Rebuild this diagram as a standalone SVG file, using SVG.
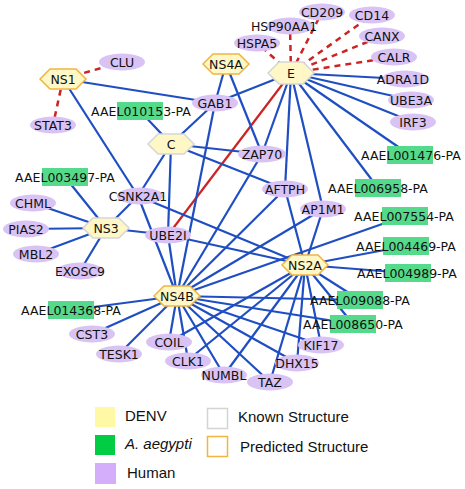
<svg xmlns="http://www.w3.org/2000/svg" width="465" height="489" viewBox="0 0 465 489">
<style>
.e{stroke:#1F4EC2;stroke-width:2.2;fill:none}
.d{stroke:#CC2424;stroke-width:2.5;stroke-dasharray:6 5;fill:none}
.r{stroke:#CC2424;stroke-width:2.2;fill:none}
.h{fill:#D9C3F4}
.vk{fill:#FFF8C6;stroke:#D6D6D6;stroke-width:1.5}
.vp{fill:#FFF8C6;stroke:#F0B444;stroke-width:1.5}
.m{fill:#55D98A}
.t{font-family:"DejaVu Sans",sans-serif;font-size:12.5px;fill:#111;text-anchor:middle}
.l{font-family:"Liberation Sans",Arial,sans-serif;font-size:15px;fill:#111}
</style>
<rect width="465" height="489" fill="#fff"/>
<g id="connectors">
<line class="d" x1="63" y1="79" x2="122" y2="62"/>
<line class="d" x1="63" y1="79" x2="53" y2="125"/>
<line class="d" x1="291" y1="73" x2="257" y2="43"/>
<line class="d" x1="291" y1="73" x2="290" y2="26"/>
<line class="d" x1="291" y1="73" x2="322" y2="12"/>
<line class="d" x1="291" y1="73" x2="372" y2="15"/>
<line class="d" x1="291" y1="73" x2="382" y2="36"/>
<line class="d" x1="291" y1="73" x2="394" y2="57"/>
<line class="r" x1="291" y1="73" x2="168" y2="235"/>
<line class="e" x1="63" y1="79" x2="215" y2="103"/>
<line class="e" x1="63" y1="79" x2="138" y2="196"/>
<line class="e" x1="226" y1="64" x2="215" y2="103"/>
<line class="e" x1="226" y1="64" x2="262" y2="154"/>
<line class="e" x1="291" y1="73" x2="215" y2="103"/>
<line class="e" x1="291" y1="73" x2="262" y2="154"/>
<line class="e" x1="291" y1="73" x2="285" y2="189"/>
<line class="e" x1="291" y1="73" x2="323" y2="209"/>
<line class="e" x1="291" y1="73" x2="378" y2="188"/>
<line class="e" x1="291" y1="73" x2="410" y2="155"/>
<line class="e" x1="291" y1="73" x2="413" y2="122"/>
<line class="e" x1="291" y1="73" x2="411" y2="100"/>
<line class="e" x1="291" y1="73" x2="403" y2="79"/>
<line class="e" x1="171" y1="144" x2="140" y2="111"/>
<line class="e" x1="171" y1="144" x2="215" y2="103"/>
<line class="e" x1="171" y1="144" x2="262" y2="154"/>
<line class="e" x1="171" y1="144" x2="285" y2="189"/>
<line class="e" x1="171" y1="144" x2="138" y2="196"/>
<line class="e" x1="171" y1="144" x2="168" y2="235"/>
<line class="e" x1="106" y1="228" x2="65" y2="177"/>
<line class="e" x1="106" y1="228" x2="33" y2="203"/>
<line class="e" x1="106" y1="228" x2="26" y2="229"/>
<line class="e" x1="106" y1="228" x2="36" y2="254"/>
<line class="e" x1="106" y1="228" x2="80" y2="271"/>
<line class="e" x1="106" y1="228" x2="138" y2="196"/>
<line class="e" x1="106" y1="228" x2="168" y2="235"/>
<line class="e" x1="305" y1="265" x2="138" y2="196"/>
<line class="e" x1="305" y1="265" x2="168" y2="235"/>
<line class="e" x1="305" y1="265" x2="285" y2="189"/>
<line class="e" x1="305" y1="265" x2="323" y2="209"/>
<line class="e" x1="305" y1="265" x2="406" y2="246"/>
<line class="e" x1="305" y1="265" x2="407" y2="273"/>
<line class="e" x1="305" y1="265" x2="360" y2="300"/>
<line class="e" x1="305" y1="265" x2="353" y2="324"/>
<line class="e" x1="305" y1="265" x2="321" y2="345"/>
<line class="e" x1="305" y1="265" x2="297" y2="363"/>
<line class="e" x1="305" y1="265" x2="270" y2="382"/>
<line class="e" x1="305" y1="265" x2="224" y2="375"/>
<line class="e" x1="305" y1="265" x2="188" y2="360"/>
<line class="e" x1="305" y1="265" x2="169" y2="342"/>
<line class="e" x1="177" y1="296" x2="215" y2="103"/>
<line class="e" x1="177" y1="296" x2="262" y2="154"/>
<line class="e" x1="177" y1="296" x2="285" y2="189"/>
<line class="e" x1="177" y1="296" x2="323" y2="209"/>
<line class="e" x1="177" y1="296" x2="405" y2="216"/>
<line class="e" x1="177" y1="296" x2="360" y2="300"/>
<line class="e" x1="177" y1="296" x2="353" y2="324"/>
<line class="e" x1="177" y1="296" x2="321" y2="345"/>
<line class="e" x1="177" y1="296" x2="297" y2="363"/>
<line class="e" x1="177" y1="296" x2="270" y2="382"/>
<line class="e" x1="177" y1="296" x2="224" y2="375"/>
<line class="e" x1="177" y1="296" x2="188" y2="360"/>
<line class="e" x1="177" y1="296" x2="169" y2="342"/>
<line class="e" x1="177" y1="296" x2="119" y2="354"/>
<line class="e" x1="177" y1="296" x2="92" y2="334"/>
<line class="e" x1="177" y1="296" x2="71" y2="310"/>
<line class="e" x1="177" y1="296" x2="168" y2="235"/>
<line class="e" x1="177" y1="296" x2="138" y2="196"/>
</g>
<g id="NS1"><polygon class="vp" points="40,79 50,69 76,69 86,79 76,89 50,89"/><text class="t" x="63" y="83.5">NS1</text></g>
<g id="NS4A"><polygon class="vp" points="203,64 213,54 239,54 249,64 239,74 213,74"/><text class="t" x="226" y="68.5">NS4A</text></g>
<g id="E"><polygon class="vk" points="268,73 279,62 303,62 314,73 303,84 279,84"/><text class="t" x="291" y="77.5">E</text></g>
<g id="C"><polygon class="vk" points="148,144 158,134 184,134 194,144 184,154 158,154"/><text class="t" x="171" y="148.5">C</text></g>
<g id="NS3"><polygon class="vk" points="83,228 93,218 119,218 129,228 119,238 93,238"/><text class="t" x="106" y="232.5">NS3</text></g>
<g id="NS2A"><polygon class="vp" points="282,265 292,255 318,255 328,265 318,275 292,275"/><text class="t" x="305" y="269.5">NS2A</text></g>
<g id="NS4B"><polygon class="vp" points="154,296 164,286 190,286 200,296 190,306 164,306"/><text class="t" x="177" y="300.5">NS4B</text></g>
<g id="CLU"><ellipse class="h" cx="122" cy="62" rx="23" ry="8.5"/><text class="t" x="122" y="66.5">CLU</text></g>
<g id="STAT3"><ellipse class="h" cx="53" cy="125" rx="23" ry="8.5"/><text class="t" x="53" y="129.5">STAT3</text></g>
<g id="HSPA5"><ellipse class="h" cx="257" cy="43" rx="23" ry="8.5"/><text class="t" x="257" y="47.5">HSPA5</text></g>
<g id="HSP90AA1"><ellipse class="h" cx="290" cy="26" rx="23" ry="8.5"/><text class="t" x="284" y="30.5">HSP90AA1</text></g>
<g id="CD209"><ellipse class="h" cx="322" cy="12" rx="23" ry="8.5"/><text class="t" x="322" y="16.5">CD209</text></g>
<g id="CD14"><ellipse class="h" cx="372" cy="15" rx="23" ry="8.5"/><text class="t" x="372" y="19.5">CD14</text></g>
<g id="CANX"><ellipse class="h" cx="382" cy="36" rx="23" ry="8.5"/><text class="t" x="382" y="40.5">CANX</text></g>
<g id="CALR"><ellipse class="h" cx="394" cy="57" rx="23" ry="8.5"/><text class="t" x="394" y="61.5">CALR</text></g>
<g id="ADRA1D"><ellipse class="h" cx="405" cy="79" rx="23" ry="8.5"/><text class="t" x="403" y="83.5">ADRA1D</text></g>
<g id="UBE3A"><ellipse class="h" cx="411" cy="100" rx="23" ry="8.5"/><text class="t" x="411" y="104.5">UBE3A</text></g>
<g id="IRF3"><ellipse class="h" cx="413" cy="122" rx="23" ry="8.5"/><text class="t" x="413" y="126.5">IRF3</text></g>
<g id="GAB1"><ellipse class="h" cx="215" cy="103" rx="23" ry="8.5"/><text class="t" x="215" y="107.5">GAB1</text></g>
<g id="ZAP70"><ellipse class="h" cx="262" cy="154" rx="24" ry="8.5"/><text class="t" x="262" y="158.5">ZAP70</text></g>
<g id="AFTPH"><ellipse class="h" cx="285" cy="189" rx="23" ry="8.5"/><text class="t" x="285" y="193.5">AFTPH</text></g>
<g id="AP1M1"><ellipse class="h" cx="323" cy="209" rx="23" ry="8.5"/><text class="t" x="323" y="213.5">AP1M1</text></g>
<g id="CSNK2A1"><ellipse class="h" cx="140" cy="196" rx="23" ry="8.5"/><text class="t" x="138" y="200.5">CSNK2A1</text></g>
<g id="UBE2I"><ellipse class="h" cx="168" cy="235" rx="23" ry="8.5"/><text class="t" x="168" y="239.5">UBE2I</text></g>
<g id="CHML"><ellipse class="h" cx="33" cy="203" rx="23" ry="8.5"/><text class="t" x="33" y="207.5">CHML</text></g>
<g id="PIAS2"><ellipse class="h" cx="26" cy="229" rx="23" ry="8.5"/><text class="t" x="26" y="233.5">PIAS2</text></g>
<g id="MBL2"><ellipse class="h" cx="36" cy="254" rx="23" ry="8.5"/><text class="t" x="36" y="258.5">MBL2</text></g>
<g id="EXOSC9"><ellipse class="h" cx="80" cy="271" rx="23" ry="8.5"/><text class="t" x="80" y="275.5">EXOSC9</text></g>
<g id="CST3"><ellipse class="h" cx="92" cy="334" rx="23" ry="8.5"/><text class="t" x="92" y="338.5">CST3</text></g>
<g id="TESK1"><ellipse class="h" cx="119" cy="354" rx="23" ry="8.5"/><text class="t" x="119" y="358.5">TESK1</text></g>
<g id="COIL"><ellipse class="h" cx="169" cy="342" rx="23" ry="8.5"/><text class="t" x="169" y="346.5">COIL</text></g>
<g id="CLK1"><ellipse class="h" cx="188" cy="361" rx="23" ry="8.5"/><text class="t" x="188" y="365.5">CLK1</text></g>
<g id="NUMBL"><ellipse class="h" cx="224" cy="375" rx="23" ry="8.5"/><text class="t" x="224" y="379.5">NUMBL</text></g>
<g id="TAZ"><ellipse class="h" cx="270" cy="382" rx="23" ry="8.5"/><text class="t" x="270" y="386.5">TAZ</text></g>
<g id="DHX15"><ellipse class="h" cx="297" cy="363" rx="22" ry="8.5"/><text class="t" x="297" y="367.5">DHX15</text></g>
<g id="KIF17"><ellipse class="h" cx="321" cy="345" rx="23" ry="8.5"/><text class="t" x="321" y="349.5">KIF17</text></g>
<g id="AAEL010153"><rect class="m" x="117" y="102" width="46" height="18"/><text class="t" x="141" y="115.5">AAEL010153-PA</text></g>
<g id="AAEL003497"><rect class="m" x="42" y="168" width="46" height="18"/><text class="t" x="65" y="181.5">AAEL003497-PA</text></g>
<g id="AAEL001476"><rect class="m" x="387" y="146" width="46" height="18"/><text class="t" x="411" y="159.5">AAEL001476-PA</text></g>
<g id="AAEL006958"><rect class="m" x="355" y="179" width="46" height="18"/><text class="t" x="378" y="192.5">AAEL006958-PA</text></g>
<g id="AAEL007554"><rect class="m" x="382" y="207" width="46" height="18"/><text class="t" x="404" y="220.5">AAEL007554-PA</text></g>
<g id="AAEL004469"><rect class="m" x="383" y="237" width="46" height="18"/><text class="t" x="406" y="250.5">AAEL004469-PA</text></g>
<g id="AAEL004989"><rect class="m" x="385" y="264" width="46" height="18"/><text class="t" x="407" y="277.5">AAEL004989-PA</text></g>
<g id="AAEL009088"><rect class="m" x="337" y="291" width="46" height="18"/><text class="t" x="360" y="304.5">AAEL009088-PA</text></g>
<g id="AAEL008650"><rect class="m" x="330" y="315" width="46" height="18"/><text class="t" x="353" y="328.5">AAEL008650-PA</text></g>
<g id="AAEL014368"><rect class="m" x="48" y="301" width="46" height="18"/><text class="t" x="71" y="314.5">AAEL014368-PA</text></g>
<g id="legend">
<rect x="95" y="407" width="20" height="20" fill="#FFF9A6"/>
<text class="l" x="125" y="421">DENV</text>
<rect x="95" y="435" width="20" height="20" fill="#00CC44"/>
<text class="l" x="125" y="449" font-style="italic">A. aegypti</text>
<rect x="95" y="463" width="21" height="21" fill="#D5AEFB"/>
<text class="l" x="127" y="478">Human</text>
<rect x="207.5" y="408.5" width="20" height="20" fill="#fff" stroke="#D4D4D4" stroke-width="1.5"/>
<text class="l" x="238" y="422">Known Structure</text>
<rect x="207.5" y="436.5" width="20" height="20" fill="#fff" stroke="#F2B640" stroke-width="1.5"/>
<text class="l" x="240" y="452">Predicted Structure</text>
</g>
</svg>
